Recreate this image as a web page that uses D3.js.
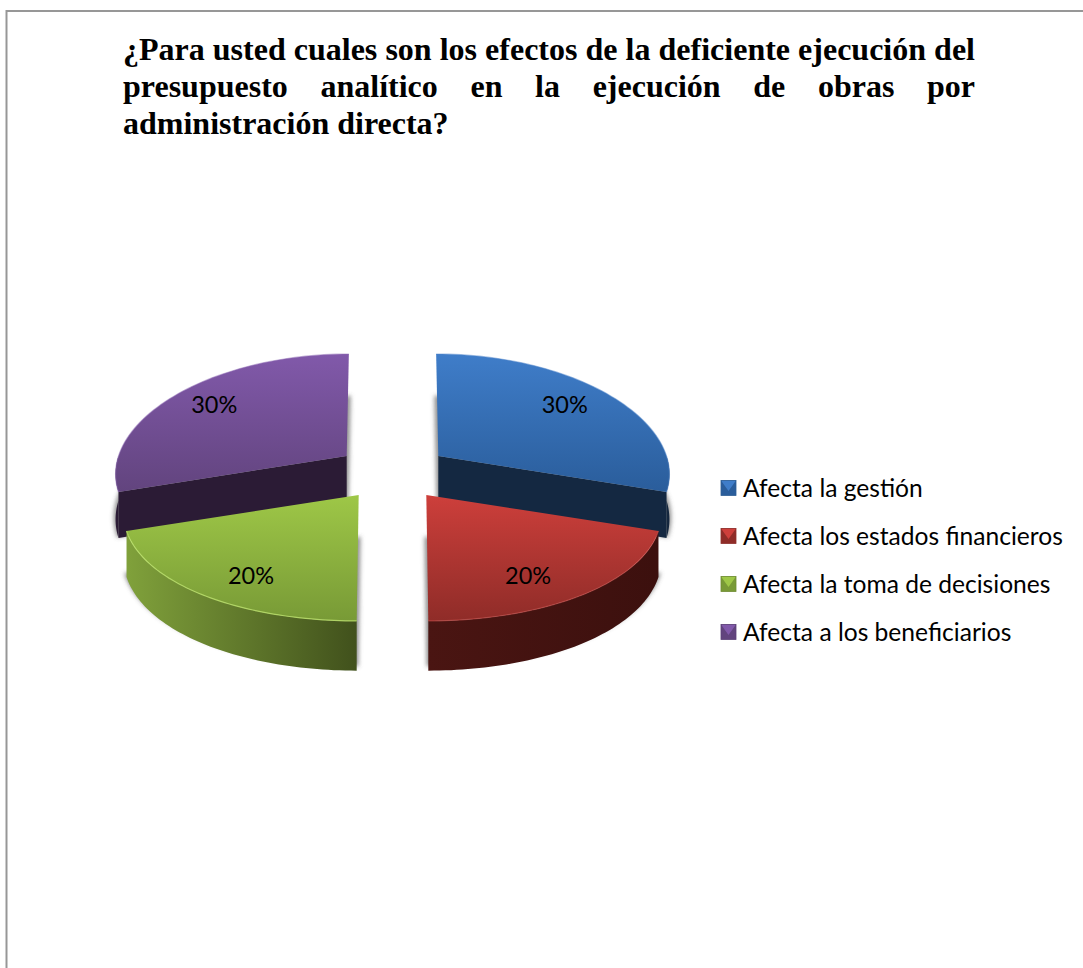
<!DOCTYPE html>
<html lang="es">
<head>
<meta charset="utf-8">
<title>Efectos de la deficiente ejecución del presupuesto analítico</title>
<script src="https://cdn.jsdelivr.net/npm/d3@7/dist/d3.min.js"></script>
<style>
html, body { margin: 0; padding: 0; background: #fff; overflow: hidden; }
svg { display: block; }
</style>
</head>
<body>
<svg id="chart" width="1083" height="968"></svg>
<script>
// Survey answers, in percent
const categories = [
  "Afecta la gestión",
  "Afecta los estados financieros",
  "Afecta la toma de decisiones",
  "Afecta a los beneficiarios"
];
const shares = [30, 20, 20, 30];
const titleLines = [
  "¿Para usted cuales son los efectos de la deficiente ejecución del",
  "presupuesto analítico en la ejecución de obras por",
  "administración directa?"
];

// Slice palette: top face start/end, wall start/end, cut face
const topFrom  = ["#3f7dc9", "#cd3f3b", "#9ec747", "#8159aa"];
const topTo    = ["#2a5d9b", "#8f2c28", "#789a36", "#62447e"];
const wallFrom = ["#16293f", "#4a1512", "#80a13b", "#2c1c36"];
const wallTo   = ["#14263e", "#3c100e", "#41511c", "#2c1c36"];
const cutFill  = ["#142841", "#3c100e", "#41511c", "#2b1b35"];
const rimStroke = ["#4f86cc", "#d4544f", "#b9de6a", "#8f6bb5"];
const rimOpacity = [0.5, 0.5, 0.85, 0.5];
const swatchEdge = ["#2f5f96", "#8e302c", "#6f8c34", "#5c4279"];

const svg = d3.select("#chart");
const defs = svg.append("defs");

defs.append("filter").attr("id", "soft")
  .attr("x", "-10%").attr("y", "-10%").attr("width", "120%").attr("height", "120%")
  .append("feGaussianBlur").attr("stdDeviation", 2.2);

// Page frame: only the top and left rules fall inside the crop
svg.append("path")
  .attr("d", "M1083,11 H6.5 V968")
  .attr("fill", "none").attr("stroke", "#979797").attr("stroke-width", 2);

// Title, justified to the column width except for the last line
const title = svg.append("g")
  .attr("font-family", "'Liberation Serif', serif")
  .attr("font-weight", "bold")
  .attr("font-size", 32)
  .attr("fill", "#000");
const titleLeft = 123, titleRight = 975;
titleLines.forEach((line, i) => {
  const t = title.append("text")
    .attr("x", titleLeft)
    .attr("y", 60 + i * 37)
    .text(line);
  if (i < titleLines.length - 1) {
    const gaps = line.split(" ").length - 1;
    const extra = (titleRight - titleLeft - t.node().getComputedTextLength()) / gaps;
    t.attr("word-spacing", extra);
  }
});

// Tilted pie projection with a mild perspective: the near edge is larger
const cx = 392.5, cy = 472.4;
const radius = 230, tiltRadius = 112.7, perspective = 0.105;
const explode = 57, explodeTilt = 0.49, depth = 44.5;
const converge = 0.0004;

const pie = d3.pie().sort(null).value(d => d).startAngle(0).endAngle(2 * Math.PI);
const arcs = pie(shares);

// Vertical edges lean toward a common vanishing point above the pie
const warp = ([x, y]) => [cx + (x - cx) * (1 + converge * (y - cy)), y];
const flat = (a, r, apex) => {
  const s = 1 / (1 + perspective * r * Math.cos(a));
  return [
    apex[0] + radius * r * Math.sin(a) * s,
    apex[1] - tiltRadius * r * Math.cos(a) * s
  ];
};
const project = (a, r, apex) => warp(flat(a, r, apex));
const dropBy = a => depth / (1 + perspective * Math.cos(a));
const arcAngles = (a0, a1) => d3.range(0, 61).map(i => a0 + (a1 - a0) * i / 60);
const line = d3.line();

const slices = arcs.map((d, i) => {
  const mid = (d.startAngle + d.endAngle) / 2;
  const apex = warp([
    cx + explode * Math.sin(mid),
    cy - explode * explodeTilt * Math.cos(mid)
  ]);
  return { i, d, mid, apex };
});

slices.forEach(({ i }) => {
  const top = defs.append("linearGradient").attr("id", `top${i}`)
    .attr("x1", 0).attr("y1", 0).attr("x2", 0).attr("y2", 1);
  top.append("stop").attr("offset", 0).attr("stop-color", topFrom[i]);
  top.append("stop").attr("offset", 1).attr("stop-color", topTo[i]);
  const wall = defs.append("linearGradient").attr("id", `wall${i}`)
    .attr("x1", 0).attr("y1", 0).attr("x2", 1).attr("y2", 0);
  wall.append("stop").attr("offset", 0).attr("stop-color", wallFrom[i]);
  wall.append("stop").attr("offset", 1).attr("stop-color", wallTo[i]);
});

const facePoints = s => [
  s.apex,
  ...arcAngles(s.d.startAngle, s.d.endAngle).map(a => project(a, 1, s.apex))
];

// Back slices first so the front pair overlaps them
const order = [0, 3, 1, 2];
const pieLayer = svg.append("g");

order.forEach(i => {
  const s = slices[i];
  const g = pieLayer.append("g");

  // Soft contact shadow, the slice outline pushed down by the extrusion
  g.append("path")
    .attr("d", line(facePoints(s)) + "Z")
    .attr("transform", `translate(0,${depth - 1})`)
    .attr("fill", "#5a5a5a")
    .attr("stroke", "#5a5a5a")
    .attr("stroke-width", 4)
    .attr("stroke-opacity", 0.55)
    .attr("fill-opacity", 0.55)
    .attr("filter", "url(#soft)");

  // Outer wall, visible only on the part of the rim facing the viewer
  const a0 = Math.max(s.d.startAngle, Math.PI / 2);
  const a1 = Math.min(s.d.endAngle, 3 * Math.PI / 2);
  if (a1 > a0) {
    const angles = arcAngles(a0, a1);
    const upper = angles.map(a => project(a, 1, s.apex));
    const lower = angles.map(a => {
      const p = project(a, 1, s.apex);
      return [p[0], p[1] + dropBy(a)];
    }).reverse();
    g.append("path")
      .attr("d", line(upper.concat(lower)) + "Z")
      .attr("fill", `url(#wall${i})`);
  }

  // Cut faces that turn toward the viewer
  const cutFace = a => {
    const rim = project(a, 1, s.apex);
    return line([
      s.apex, rim,
      [rim[0], rim[1] + dropBy(a)],
      [s.apex[0], s.apex[1] + depth]
    ]) + "Z";
  };
  if (i === 0) {
    g.append("path").attr("d", cutFace(s.d.endAngle)).attr("fill", cutFill[i]);
  }
  if (i === 3) {
    g.append("path").attr("d", cutFace(s.d.startAngle)).attr("fill", cutFill[i]);
  }

  // Top face with a thin lit rim
  g.append("path")
    .attr("d", line(facePoints(s)) + "Z")
    .attr("fill", `url(#top${i})`);
  g.append("path")
    .attr("d", line(arcAngles(s.d.startAngle, s.d.endAngle).map(a => project(a, 1, s.apex))))
    .attr("fill", "none")
    .attr("stroke", rimStroke[i])
    .attr("stroke-width", 1.2)
    .attr("stroke-opacity", rimOpacity[i]);
});

// Percentage labels
const labelReach = 0.727, labelLift = 1.13;
svg.append("g")
  .attr("font-family", "Lato, sans-serif")
  .attr("font-size", 23.5)
  .attr("fill", "#000")
  .attr("text-anchor", "middle")
  .selectAll("text")
  .data(slices)
  .join("text")
  .attr("x", s => flat(s.mid, labelReach, s.apex)[0] - 3)
  .attr("y", s => s.apex[1] + (flat(s.mid, labelReach, s.apex)[1] - s.apex[1]) * labelLift)
  .attr("dominant-baseline", "central")
  .text(s => `${s.d.data}%`);

// Legend with bevelled swatches
const legendY = d3.scalePoint().domain(categories).range([488, 632]);
const legend = svg.append("g")
  .selectAll("g")
  .data(categories)
  .join("g")
  .attr("transform", d => `translate(721,${legendY(d)})`);

const swatch = 15;
legend.append("rect")
  .attr("y", -swatch / 2)
  .attr("width", swatch).attr("height", swatch)
  .attr("fill", (d, i) => topTo[i]);
legend.append("path")
  .attr("d", `M0,${-swatch / 2} H${swatch} L${swatch / 2},${swatch * 0.2} Z`)
  .attr("fill", (d, i) => topFrom[i]);
legend.append("rect")
  .attr("y", -swatch / 2)
  .attr("width", swatch).attr("height", swatch)
  .attr("fill", "none")
  .attr("stroke", (d, i) => swatchEdge[i])
  .attr("stroke-width", 0.8);
legend.append("text")
  .attr("x", 22)
  .attr("y", -1)
  .attr("dominant-baseline", "central")
  .attr("font-family", "Lato, sans-serif")
  .attr("font-size", 24.6)
  .attr("fill", "#000")
  .text(d => d);
</script>
</body>
</html>
